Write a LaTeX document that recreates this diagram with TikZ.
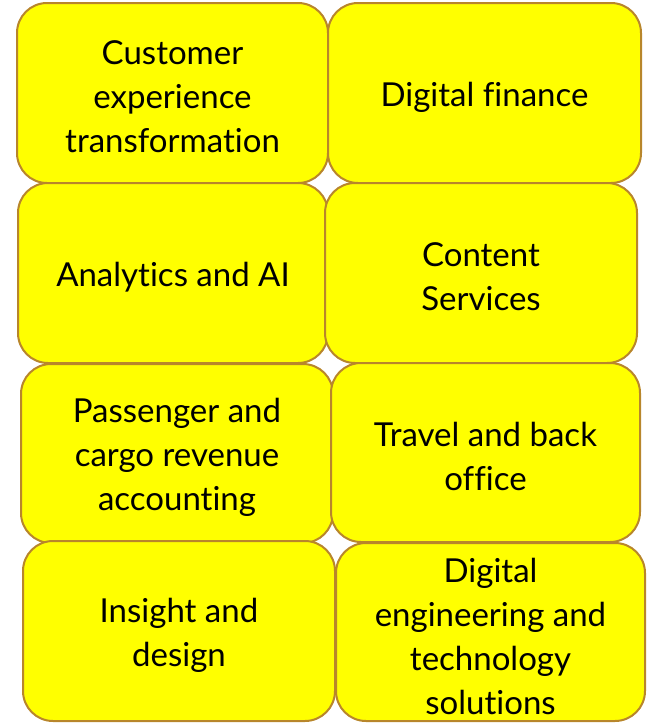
\documentclass[tikz,border=0pt]{standalone}
\usepackage{fontspec}
\setmainfont[Ligatures=NoCommon]{Lato}
\definecolor{boxfill}{HTML}{FFFF00}
\definecolor{boxedge}{HTML}{B8862B}
\begin{document}
\begin{tikzpicture}[x=1pt,y=-1pt,
  card/.style={draw=boxedge, fill=boxfill, line width=2pt, rounded corners=30pt,
    align=center, inner sep=0pt, font=\fontsize{33}{44}\selectfont},
  lbl/.style={align=center, inner sep=0pt, font=\fontsize{33}{44}\selectfont},
]
\useasboundingbox (0,0) rectangle (648,723);
\node[card, minimum width=311pt, minimum height=180pt] (b1) at (172.5,93) {};
\node[card, minimum width=313pt, minimum height=180pt] (b2) at (484.5,93) {};
\node[card, minimum width=310pt, minimum height=180pt] (b3) at (173,273) {};
\node[card, minimum width=312pt, minimum height=180pt] (b4) at (481,273) {};
\node[card, minimum width=312pt, minimum height=179pt] (b5) at (177,453.5) {};
\node[card, minimum width=309pt, minimum height=179pt] (b6) at (485.5,452.5) {};
\node[card, minimum width=312pt, minimum height=180pt] (b7) at (179,631) {};
\node[card, minimum width=309pt, minimum height=178pt] (b8) at (490.5,632) {};
\node[lbl] (t1) at ([yshift=-4pt]b1.center) {Customer\\experience\\transformation};
\node[lbl] (t2) at ([yshift=-4pt]b2.center) {Digital finance};
\node[lbl] (t3) at ([yshift=-4pt]b3.center) {Analytics and AI};
\node[lbl] (t4) at ([yshift=-4pt]b4.center) {Content\\Services};
\node[lbl] (t5) at ([yshift=-4pt]b5.center) {Passenger and\\cargo revenue\\accounting};
\node[lbl] (t6) at ([yshift=-4pt]b6.center) {Travel and back\\office};
\node[lbl] (t7) at ([yshift=-4pt]b7.center) {Insight and\\design};
\node[lbl] (t8) at ([yshift=-4pt]b8.center) {Digital\\engineering and\\technology\\solutions};
\end{tikzpicture}
\end{document}
